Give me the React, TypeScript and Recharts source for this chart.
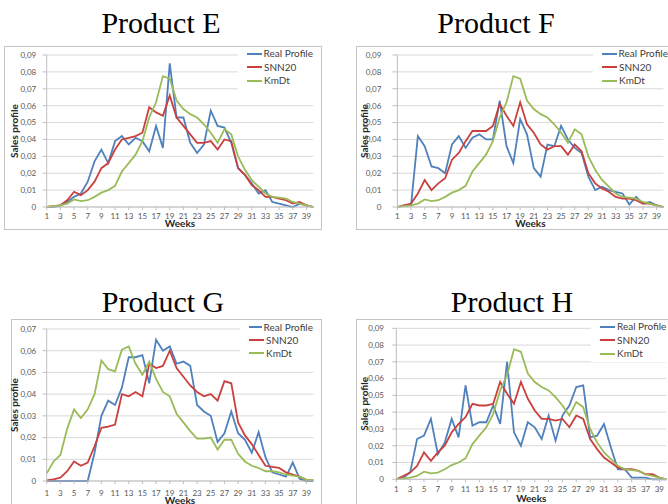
import React from 'react';
import { LineChart, Line, XAxis, YAxis, CartesianGrid, Legend } from 'recharts';

const weeks = [1, 2, 3, 4, 5, 6, 7, 8, 9, 10, 11, 12, 13, 14, 15, 16, 17, 18, 19, 20, 21, 22, 23, 24, 25, 26, 27, 28, 29, 30, 31, 32, 33, 34, 35, 36, 37, 38, 39, 40];

const seriesNames = ['Real Profile', 'SNN20', 'KmDt'];
const seriesColors = ['#4f81bd', '#c9403f', '#9bbb59'];

const ticks09 = [0, 0.01, 0.02, 0.03, 0.04, 0.05, 0.06, 0.07, 0.08, 0.09];
const ticks07 = [0, 0.01, 0.02, 0.03, 0.04, 0.05, 0.06, 0.07];

// KmDt profile shared by products E, F and H
const kmdtCommon = [0, 0.0005, 0.001, 0.002, 0.0045, 0.0035, 0.004, 0.006, 0.0085, 0.010, 0.0125, 0.021, 0.026, 0.031, 0.039, 0.053, 0.062, 0.0775, 0.076, 0.063, 0.058, 0.055, 0.053, 0.049, 0.044, 0.038, 0.046, 0.043, 0.030, 0.022, 0.016, 0.012, 0.008, 0.006, 0.0055, 0.005, 0.003, 0.002, 0.001, 0];

const realE = [0, 0, 0.001, 0.003, 0.006, 0.008, 0.015, 0.027, 0.034, 0.026, 0.039, 0.042, 0.037, 0.041, 0.039, 0.033, 0.048, 0.035, 0.085, 0.053, 0.053, 0.038, 0.032, 0.037, 0.057, 0.048, 0.047, 0.038, 0.023, 0.019, 0.014, 0.008, 0.010, 0.003, 0.002, 0.001, 0, 0.002, 0.001, 0];
const snnE = [0, 0.0005, 0.001, 0.004, 0.009, 0.007, 0.010, 0.015, 0.023, 0.026, 0.034, 0.040, 0.041, 0.042, 0.044, 0.059, 0.056, 0.054, 0.066, 0.053, 0.048, 0.043, 0.038, 0.038, 0.039, 0.034, 0.040, 0.039, 0.023, 0.019, 0.013, 0.010, 0.006, 0.006, 0.005, 0.004, 0.002, 0.003, 0.001, 0];

const realF = [0, 0.001, 0.001, 0.042, 0.036, 0.024, 0.023, 0.020, 0.037, 0.042, 0.035, 0.041, 0.043, 0.040, 0.040, 0.063, 0.036, 0.026, 0.052, 0.043, 0.023, 0.018, 0.037, 0.036, 0.048, 0.040, 0.035, 0.032, 0.018, 0.010, 0.012, 0.010, 0.009, 0.008, 0.0015, 0.006, 0.002, 0.003, 0.001, 0];
const snnF = [0, 0.001, 0.002, 0.008, 0.016, 0.010, 0.014, 0.017, 0.028, 0.032, 0.039, 0.045, 0.045, 0.045, 0.048, 0.061, 0.054, 0.048, 0.062, 0.049, 0.044, 0.037, 0.034, 0.036, 0.036, 0.031, 0.037, 0.033, 0.020, 0.014, 0.011, 0.009, 0.006, 0.005, 0.005, 0.004, 0.002, 0.002, 0.001, 0];

const realG = [0, 0, 0, 0, 0, 0, 0, 0.013, 0.030, 0.037, 0.035, 0.043, 0.057, 0.057, 0.058, 0.045, 0.065, 0.060, 0.062, 0.054, 0.055, 0.053, 0.035, 0.032, 0.030, 0.018, 0.022, 0.032, 0.022, 0.019, 0.013, 0.0225, 0.011, 0.004, 0.003, 0.002, 0.0085, 0.001, 0, 0];
const snnG = [0.0003, 0.0007, 0.0015, 0.0045, 0.009, 0.007, 0.0085, 0.016, 0.0245, 0.025, 0.026, 0.040, 0.039, 0.041, 0.039, 0.054, 0.052, 0.053, 0.060, 0.052, 0.048, 0.044, 0.041, 0.039, 0.040, 0.037, 0.046, 0.045, 0.027, 0.021, 0.017, 0.012, 0.007, 0.0065, 0.006, 0.004, 0.003, 0.002, 0.0005, 0.0005];
const kmdtG = [0.0035, 0.009, 0.012, 0.024, 0.033, 0.029, 0.033, 0.040, 0.0555, 0.0515, 0.0505, 0.0605, 0.062, 0.054, 0.049, 0.055, 0.047, 0.041, 0.039, 0.031, 0.027, 0.023, 0.0195, 0.0195, 0.020, 0.0145, 0.019, 0.019, 0.0125, 0.009, 0.007, 0.006, 0.0045, 0.0045, 0.004, 0.003, 0.0025, 0.002, 0.0005, 0.0005];

const realH = [0, 0.001, 0.004, 0.024, 0.026, 0.036, 0.015, 0.022, 0.036, 0.025, 0.056, 0.032, 0.034, 0.034, 0.044, 0.033, 0.070, 0.028, 0.020, 0.034, 0.031, 0.024, 0.038, 0.023, 0.038, 0.044, 0.055, 0.056, 0.025, 0.026, 0.033, 0.019, 0.006, 0.006, 0.001, 0.001, 0.001, 0, 0, 0];
const snnH = [0, 0.002, 0.004, 0.008, 0.016, 0.011, 0.016, 0.020, 0.028, 0.033, 0.037, 0.045, 0.044, 0.044, 0.045, 0.058, 0.051, 0.045, 0.058, 0.048, 0.041, 0.036, 0.036, 0.035, 0.036, 0.031, 0.038, 0.036, 0.024, 0.018, 0.013, 0.010, 0.007, 0.006, 0.006, 0.005, 0.003, 0.003, 0.001, 0];

const titles = ['Product E', 'Product F', 'Product G', 'Product H'];

const TICK_FONT = 'Lato, "Open Sans", sans-serif';

const fmt = (v: number) => (v === 0 ? '0' : v.toFixed(2).replace('.', ','));

type Cfg = {
  title: string;
  titleX: number;
  titleTop: number;
  real: number[];
  snn: number[];
  kmdt: number[];
  ticks: number[];
  box: { left: number; top: number; width: number; height: number };
  chart: { left: number; top: number; width: number; height: number };
  mTop: number;
  mRight: number;
  yWidth: number;
  yTickSize: number;
  yTickMargin: number;
  xHeight: number;
  xTickMargin: number;
  yLabelX: number;
  weeksY: number;
  legend: { left: number; top: number; width: number; height: number; row: number };
};

const panels: Cfg[] = [
  {
    title: titles[0], titleX: 161, titleTop: 8, real: realE, snn: snnE, kmdt: kmdtCommon, ticks: ticks09,
    box: { left: 4, top: 46, width: 318, height: 184 },
    chart: { left: 0, top: 46, width: 322, height: 184 },
    mTop: 9, mRight: 8.7, yWidth: 46.7, yTickSize: 4, yTickMargin: 6.5, xHeight: 23, xTickMargin: 3.5,
    yLabelX: 14, weeksY: 180.5,
    legend: { left: 238, top: 1, width: 75, height: 43, row: 13.5 },
  },
  {
    title: titles[1], titleX: 496, titleTop: 8, real: realF, snn: snnF, kmdt: kmdtCommon, ticks: ticks09,
    box: { left: 356, top: 46, width: 330, height: 184 },
    chart: { left: 356, top: 46, width: 312, height: 184 },
    mTop: 9, mRight: 4.6, yWidth: 41.4, yTickSize: 5, yTickMargin: 11, xHeight: 23, xTickMargin: 3.5,
    yLabelX: 8, weeksY: 180.5,
    legend: { left: 237, top: 1, width: 75, height: 38, row: 13.5 },
  },
  {
    title: titles[2], titleX: 163, titleTop: 287, real: realG, snn: snnG, kmdt: kmdtG, ticks: ticks07,
    box: { left: 11, top: 319, width: 311, height: 200 },
    chart: { left: 0, top: 319, width: 322, height: 185 },
    mTop: 10, mRight: 8.7, yWidth: 46.7, yTickSize: 4, yTickMargin: 6.5, xHeight: 23, xTickMargin: 6,
    yLabelX: 14, weeksY: 184.6,
    legend: { left: 240, top: 1.5, width: 73, height: 41, row: 13 },
  },
  {
    title: titles[3], titleX: 512, titleTop: 287, real: realH, snn: snnH, kmdt: kmdtCommon, ticks: ticks09,
    box: { left: 356, top: 319, width: 330, height: 200 },
    chart: { left: 356, top: 319, width: 312, height: 185 },
    mTop: 9.3, mRight: 1.7, yWidth: 40.3, yTickSize: 4, yTickMargin: 8.3, xHeight: 24.7, xTickMargin: 4.5,
    yLabelX: 8.5, weeksY: 182.6,
    legend: { left: 235, top: 1, width: 77, height: 42, row: 13.5 },
  },
];

function LegendBox({ row }: { row: number }) {
  return (
    <div style={{ fontFamily: TICK_FONT, fontSize: 10, color: '#404040' }}>
      {seriesNames.map((n, i) => (
        <div key={n} style={{ height: row, lineHeight: row + 'px', display: 'flex', alignItems: 'center', whiteSpace: 'nowrap' }}>
          <span style={{ display: 'inline-block', width: 15, height: 2, background: seriesColors[i], marginLeft: 9, marginRight: 2 }} />
          <span>{n}</span>
        </div>
      ))}
    </div>
  );
}

function Panel({ cfg }: { cfg: Cfg }) {
  const data = weeks.map((w, i) => ({ week: w, real: cfg.real[i], snn: cfg.snn[i], kmdt: cfg.kmdt[i] }));
  const plotTop = cfg.mTop;
  const plotBottom = cfg.chart.height - cfg.xHeight;
  const plotLeft = cfg.yWidth;
  const plotRight = cfg.chart.width - cfg.mRight;
  const cy = (plotTop + plotBottom) / 2;
  const cx = (plotLeft + plotRight) / 2;
  const yMax = cfg.ticks[cfg.ticks.length - 1];
  return (
    <>
      <div
        style={{
          position: 'absolute', left: cfg.titleX - 150, top: cfg.titleTop, width: 300, textAlign: 'center',
          fontFamily: '"Liberation Serif", "Times New Roman", serif', fontSize: 30, lineHeight: '30px', color: '#000',
        }}
      >
        {cfg.title}
      </div>
      <div
        style={{
          position: 'absolute', left: cfg.box.left, top: cfg.box.top, width: cfg.box.width, height: cfg.box.height,
          border: '1px solid #c4c4c4', boxSizing: 'border-box', background: '#fff',
        }}
      />
      <div style={{ position: 'absolute', left: cfg.chart.left, top: cfg.chart.top }}>
        <LineChart
          width={cfg.chart.width}
          height={cfg.chart.height}
          data={data}
          margin={{ top: cfg.mTop, right: cfg.mRight, left: 0, bottom: 0 }}
        >
          <CartesianGrid vertical={false} stroke="#d9d9d9" strokeWidth={1} />
          <XAxis
            dataKey="week"
            interval={1}
            height={cfg.xHeight}
            tickSize={3}
            tickMargin={cfg.xTickMargin}
            tick={{ fontSize: 8, fill: '#595959', fontFamily: TICK_FONT }}
            axisLine={{ stroke: '#bfbfbf' }}
            tickLine={{ stroke: '#bfbfbf' }}
            label={{
              content: () => (
                <text x={cx} y={cfg.weeksY} textAnchor="middle" fontFamily={TICK_FONT} fontWeight="bold" fontSize={10} fill="#262626">
                  Weeks
                </text>
              ),
            }}
          />
          <YAxis
            type="number"
            domain={[0, yMax]}
            ticks={cfg.ticks}
            interval={0}
            width={cfg.yWidth}
            tickSize={cfg.yTickSize}
            tickMargin={cfg.yTickMargin}
            tickFormatter={fmt}
            tick={{ fontSize: 8, fill: '#595959', fontFamily: TICK_FONT }}
            axisLine={{ stroke: '#bfbfbf' }}
            tickLine={{ stroke: '#bfbfbf' }}
            label={{
              content: () => (
                <text
                  x={cfg.yLabelX}
                  y={cy}
                  transform={`rotate(-90 ${cfg.yLabelX} ${cy})`}
                  textAnchor="middle"
                  dominantBaseline="central"
                  fontFamily={TICK_FONT}
                  fontWeight="bold"
                  fontSize={10}
                  fill="#262626"
                >
                  Sales profile
                </text>
              ),
            }}
          />
          <Legend
            layout="vertical"
            align="center"
            verticalAlign="middle"
            width={cfg.legend.width}
            height={cfg.legend.height}
            wrapperStyle={{
              position: 'absolute', left: cfg.legend.left, top: cfg.legend.top, width: cfg.legend.width,
              height: cfg.legend.height, background: '#fff', margin: 0, padding: 0,
            }}
            content={() => <LegendBox row={cfg.legend.row} />}
          />
          <Line type="linear" dataKey="real" name={seriesNames[0]} stroke={seriesColors[0]} strokeWidth={1.8} dot={false} isAnimationActive={false} />
          <Line type="linear" dataKey="snn" name={seriesNames[1]} stroke={seriesColors[1]} strokeWidth={1.8} dot={false} isAnimationActive={false} />
          <Line type="linear" dataKey="kmdt" name={seriesNames[2]} stroke={seriesColors[2]} strokeWidth={1.8} dot={false} isAnimationActive={false} />
        </LineChart>
      </div>
    </>
  );
}

export default function App() {
  return (
    <div style={{ position: 'absolute', left: 0, top: 0, width: 668, height: 504, overflow: 'hidden', background: '#fff' }}>
      {panels.map((p) => (
        <Panel key={p.title} cfg={p} />
      ))}
    </div>
  );
}
